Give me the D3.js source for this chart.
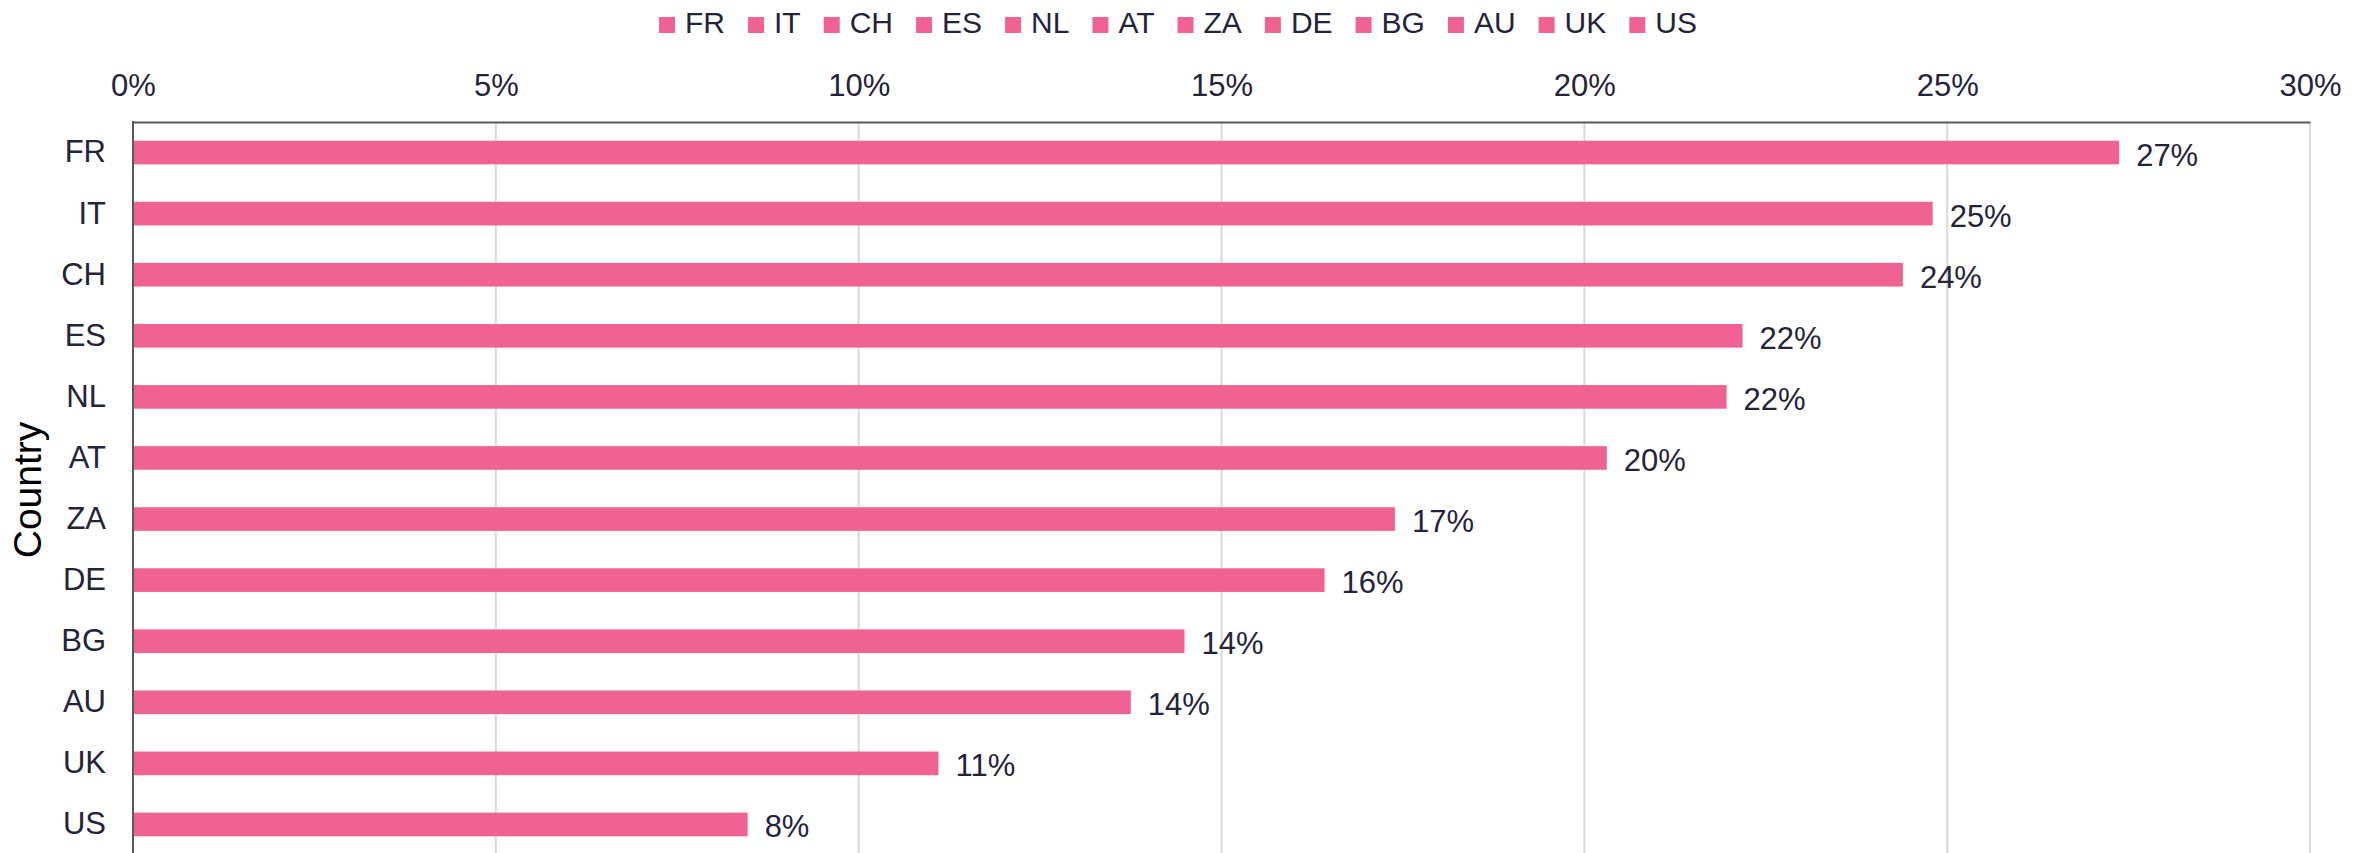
<!DOCTYPE html>
<html>
<head>
<meta charset="utf-8">
<script src="https://cdn.jsdelivr.net/npm/d3@7"></script>
<style>
  body { margin: 0; background: #fff; }
  text { font-family: "Liberation Sans", Arial, sans-serif; }
</style>
</head>
<body>
<div id="chart"></div>
<script>
const width = 2374;
const height = 853;
const margin = { top: 122, right: 64, bottom: -2, left: 133 };

const barColor = '#f06292';
const textColor = '#25233a';

// data
const countries = ['FR', 'IT', 'CH', 'ES', 'NL', 'AT', 'ZA', 'DE', 'BG', 'AU', 'UK', 'US'];
const shares = [27.37, 24.8, 24.39, 22.18, 21.96, 20.31, 17.39, 16.42, 14.49, 13.75, 11.1, 8.47];
const xTicks = [0, 5, 10, 15, 20, 25, 30];

const rows = countries.map((c, i) => ({ country: c, value: shares[i] }));

const svg = d3.select('#chart')
    .append('svg')
    .attr('width', width)
    .attr('height', height);

const x = d3.scaleLinear()
    .domain([0, 30])
    .range([margin.left, width - margin.right]);

const y = d3.scaleBand()
    .domain(countries)
    .range([margin.top, height - margin.bottom])
    .paddingInner(0.613)
    .paddingOuter(0.3065);

// gridlines
svg.append('g')
    .attr('class', 'grid')
    .selectAll('line')
    .data(xTicks.slice(1))
    .enter()
    .append('line')
    .attr('x1', d => x(d))
    .attr('x2', d => x(d))
    .attr('y1', margin.top)
    .attr('y2', height)
    .attr('stroke', '#d9d9d9')
    .attr('stroke-width', 2);

// bars
svg.append('g')
    .selectAll('rect')
    .data(rows)
    .enter()
    .append('rect')
    .attr('x', x(0))
    .attr('y', d => y(d.country))
    .attr('width', d => x(d.value) - x(0))
    .attr('height', y.bandwidth())
    .attr('fill', barColor);

// value labels
svg.append('g')
    .selectAll('text')
    .data(rows)
    .enter()
    .append('text')
    .attr('x', d => x(d.value) + 17)
    .attr('y', d => y(d.country) + y.bandwidth() / 2)
    .attr('dy', '0.42em')
    .attr('fill', textColor)
    .style('font-size', '31px')
    .text(d => Math.round(d.value) + '%');

// top axis
const xAxis = svg.append('g')
    .attr('transform', `translate(0,${margin.top})`)
    .call(d3.axisTop(x).tickValues(xTicks).tickSize(0).tickPadding(26).tickFormat(d => d + '%'));
xAxis.select('.domain').attr('stroke', '#595959').attr('stroke-width', 2);
xAxis.selectAll('text').attr('fill', textColor).style('font-size', '31px');

// left axis
const yAxis = svg.append('g')
    .attr('transform', `translate(${margin.left},0)`)
    .call(d3.axisLeft(y).tickSize(0).tickPadding(27));
yAxis.select('.domain').remove();
yAxis.append('line')
    .attr('x1', 0).attr('x2', 0)
    .attr('y1', margin.top - 1).attr('y2', height)
    .attr('stroke', '#595959')
    .attr('stroke-width', 2);
yAxis.selectAll('text').attr('fill', textColor).style('font-size', '31px');

// axis title
svg.append('text')
    .attr('transform', 'rotate(-90)')
    .attr('x', -490)
    .attr('y', 41)
    .attr('text-anchor', 'middle')
    .attr('fill', '#000')
    .style('font-size', '39px')
    .text('Country');

// legend
const legend = svg.append('g').attr('class', 'legend');
const items = legend.selectAll('g')
    .data(countries)
    .enter()
    .append('g');
items.append('rect')
    .attr('width', 16)
    .attr('height', 16)
    .attr('y', 17)
    .attr('fill', barColor);
items.append('text')
    .attr('x', 26)
    .attr('y', 33)
    .attr('fill', textColor)
    .style('font-size', '30px')
    .text(d => d);

let offset = 0;
items.each(function () {
    const w = d3.select(this).select('text').node().getComputedTextLength();
    d3.select(this).attr('transform', `translate(${offset},0)`);
    offset += 26 + w + 23;
});
const legendWidth = offset - 23;
legend.attr('transform', `translate(${1178 - legendWidth / 2},0)`);
</script>
</body>
</html>
